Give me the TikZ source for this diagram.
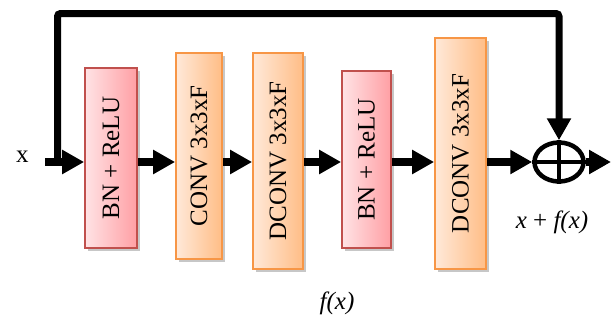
\documentclass[tikz,border=0pt]{standalone}
\usepackage{fontspec}
\setmainfont{Liberation Serif}
\usetikzlibrary{arrows.meta,shapes.geometric,shadows}

\definecolor{redleft}{HTML}{FFE3E5}
\definecolor{redright}{HTML}{FF9FA4}
\definecolor{redline}{HTML}{C0504D}
\definecolor{orleft}{HTML}{FFE9D9}
\definecolor{orright}{HTML}{FFBD86}
\definecolor{orline}{HTML}{F79646}

\tikzset{
  boxbase/.style={rectangle, line width=1.8pt, inner sep=0pt,
    font=\fontsize{25}{30}\selectfont,
    drop shadow={shadow xshift=2.5pt, shadow yshift=-3pt, fill=black, opacity=0.22}},
  redbox/.style={boxbase, draw=redline, left color=redleft, right color=redright},
  orbox/.style={boxbase, draw=orline, left color=orleft, right color=orright},
  flow/.style={line width=7.5pt, -{Triangle[length=22pt,width=23pt]}},
  loopline/.style={line width=7pt, rounded corners=3pt, -{Triangle[length=22pt,width=23pt]}},
  lbl/.style={font=\fontsize{25}{30}\selectfont},
}

\begin{document}
\begin{tikzpicture}[x=1pt, y=-1pt]
  \useasboundingbox (0,0) rectangle (613,322);

  % main signal line and skip-loop level
  \coordinate (m) at (0,162);
  \coordinate (top) at (0,13.5);
  \coordinate (in) at (45,162);
  \coordinate (split) at (57.5,162);
  \coordinate (out) at (611,162);

  % processing blocks
  \node[redbox, minimum width=52pt, minimum height=180pt] (b1) at (111,158) {\rotatebox{90}{BN + ReLU}};
  \node[orbox, minimum width=46pt, minimum height=206pt] (b2) at (199,156) {\rotatebox{90}{CONV 3x3xF}};
  \node[orbox, minimum width=50pt, minimum height=216pt] (b3) at (278,161) {\rotatebox{90}{DCONV 3x3xF}};
  \node[redbox, minimum width=49pt, minimum height=177pt] (b4) at (366.5,159.5) {\rotatebox{90}{BN + ReLU}};
  \node[orbox, minimum width=51pt, minimum height=231pt] (b5) at (460.5,153.5) {\rotatebox{90}{DCONV 3x3xF}};

  % summation junction
  \node[ellipse, draw, line width=4.5pt, minimum width=49pt, minimum height=39pt, inner sep=0pt] (sum) at (559,162) {};
  \draw[line width=4.5pt] (sum.north) -- (sum.south);
  \draw[line width=4.5pt] (sum.west) -- (sum.east);

  % labels
  \node[lbl, anchor=base] (xin) at (22.5,162) {x};
  \node[lbl, anchor=base] (sumlbl) at (552,228) {\textit{x} + \textit{f(x)}};
  \node[lbl, anchor=base] (flbl) at (337,309) {\textit{f(x)}};

  % connectors along the main line
  \draw[flow] (in) -- (b1.west |- m);
  \draw[flow] (b1.east |- m) -- (b2.west |- m);
  \draw[flow] (b2.east |- m) -- (b3.west |- m);
  \draw[flow] (b3.east |- m) -- (b4.west |- m);
  \draw[flow] (b4.east |- m) -- (b5.west |- m);
  \draw[flow] (b5.east |- m) -- (sum.west);
  \draw[flow] (sum.east) -- (out);

  % identity skip connection
  \draw[loopline] (split) -- (split |- top) -- (sum.north |- top) -- (sum.north);
\end{tikzpicture}
\end{document}
